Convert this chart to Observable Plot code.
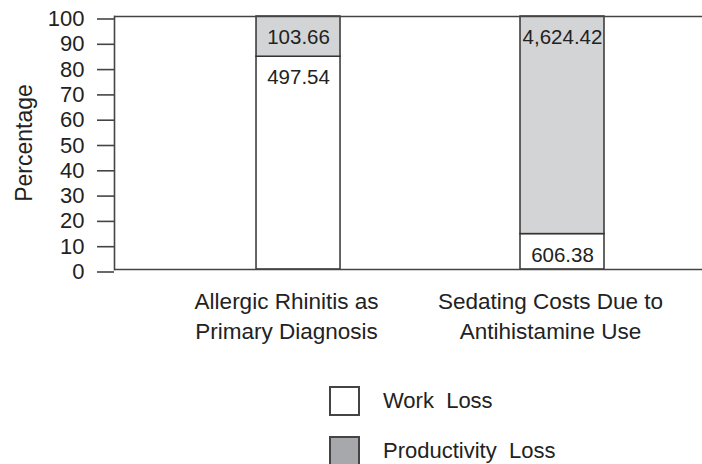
<!DOCTYPE html>
<html>
<head>
<meta charset="utf-8">
<script src="https://cdn.jsdelivr.net/npm/d3@7"></script>
<script src="https://cdn.jsdelivr.net/npm/@observablehq/plot@0.6"></script>
<style>
  html, body { margin: 0; padding: 0; background: #fff; }
  #wrap { position: relative; width: 702px; height: 464px; font-family: "Liberation Sans", Arial, Helvetica, sans-serif; color: #222; }
  #chart svg { display: block; }
  #legend { position: absolute; left: 329px; top: 386px; }
  .item { display: flex; align-items: center; height: 30px; margin-bottom: 20px; }
  .swatch { width: 31px; height: 30px; box-sizing: border-box; border: 2px solid #444; margin-right: 23px; }
  .lab { font-size: 22px; white-space: pre; color: #222; }
</style>
</head>
<body>
<div id="wrap">
  <div id="chart"></div>
  <div id="legend"></div>
</div>
<script>
// ---- data ----
const categories = ["Allergic Rhinitis as Primary Diagnosis", "Sedating Costs Due to Antihistamine Use"];
const xTickLabels = ["Allergic Rhinitis as\nPrimary Diagnosis", "Sedating Costs Due to\nAntihistamine Use"];
const series = ["Work  Loss", "Productivity  Loss"];
const workLossPct = [84.1, 14.0];
const productivityLossPct = [15.9, 86.0];
const workLossCost = [497.54, 606.38];
const productivityLossCost = [103.66, 4624.42];
const yTicks = [0, 10, 20, 30, 40, 50, 60, 70, 80, 90, 100];
const seriesColors = ["#ffffff", "#d3d4d6"];
const legendColors = ["#ffffff", "#a7a8ac"];

// table for the library
const table = [];
categories.forEach((c, i) => {
  table.push({category: c, series: series[0], pct: workLossPct[i], cost: workLossCost[i]});
  table.push({category: c, series: series[1], pct: productivityLossPct[i], cost: productivityLossCost[i]});
});

const fmt = d3.format(",.2f");

const chart = Plot.plot({
  width: 702,
  height: 360,
  marginLeft: 114,
  marginRight: 0,
  marginTop: 16,
  marginBottom: 91,
  style: {fontFamily: '"Liberation Sans", Arial, Helvetica, sans-serif', color: "#222", background: "#fff"},
  x: {domain: categories, paddingInner: 0.6818, paddingOuter: 0.4546, align: 0.5917, round: false},
  y: {domain: [0, 100]},
  color: {domain: series, range: seriesColors},
  marks: [
    Plot.barY(table, {x: "category", y: "pct", fill: "series", order: series, stroke: "#333", strokeWidth: 1.5}),
    Plot.text(table, Plot.stackY2({x: "category", y: "pct", z: "series", order: series, text: d => fmt(d.cost), dy: 21, fontSize: 20.5, fill: "#222"})),
    Plot.ruleY([0, 100], {stroke: "#444", strokeWidth: 1.6}),
    Plot.frame({anchor: "left", stroke: "#444", strokeWidth: 1.6}),
    Plot.axisY({ticks: yTicks, tickSize: 17, tickPadding: 13, fontSize: 22, dy: 2.5, label: null, stroke: "#444", strokeWidth: 1.6, fill: "#222"}),
    Plot.axisX({tickSize: 0, tickPadding: 18, fontSize: 22.5, lineHeight: 1.34, dx: -12, label: null, fill: "#222",
      tickFormat: d => xTickLabels[categories.indexOf(d)]}),
    Plot.text(["Percentage"], {frameAnchor: "left", textAnchor: "middle", rotate: -90, dx: -90, fontSize: 23, fill: "#222"})
  ]
});
document.getElementById("chart").appendChild(chart);

// legend below the plot
const legend = document.getElementById("legend");
series.forEach((s, i) => {
  const item = document.createElement("div");
  item.className = "item";
  const sw = document.createElement("div");
  sw.className = "swatch";
  sw.style.background = legendColors[i];
  const lab = document.createElement("span");
  lab.className = "lab";
  lab.textContent = s;
  item.appendChild(sw);
  item.appendChild(lab);
  legend.appendChild(item);
});
</script>
</body>
</html>
